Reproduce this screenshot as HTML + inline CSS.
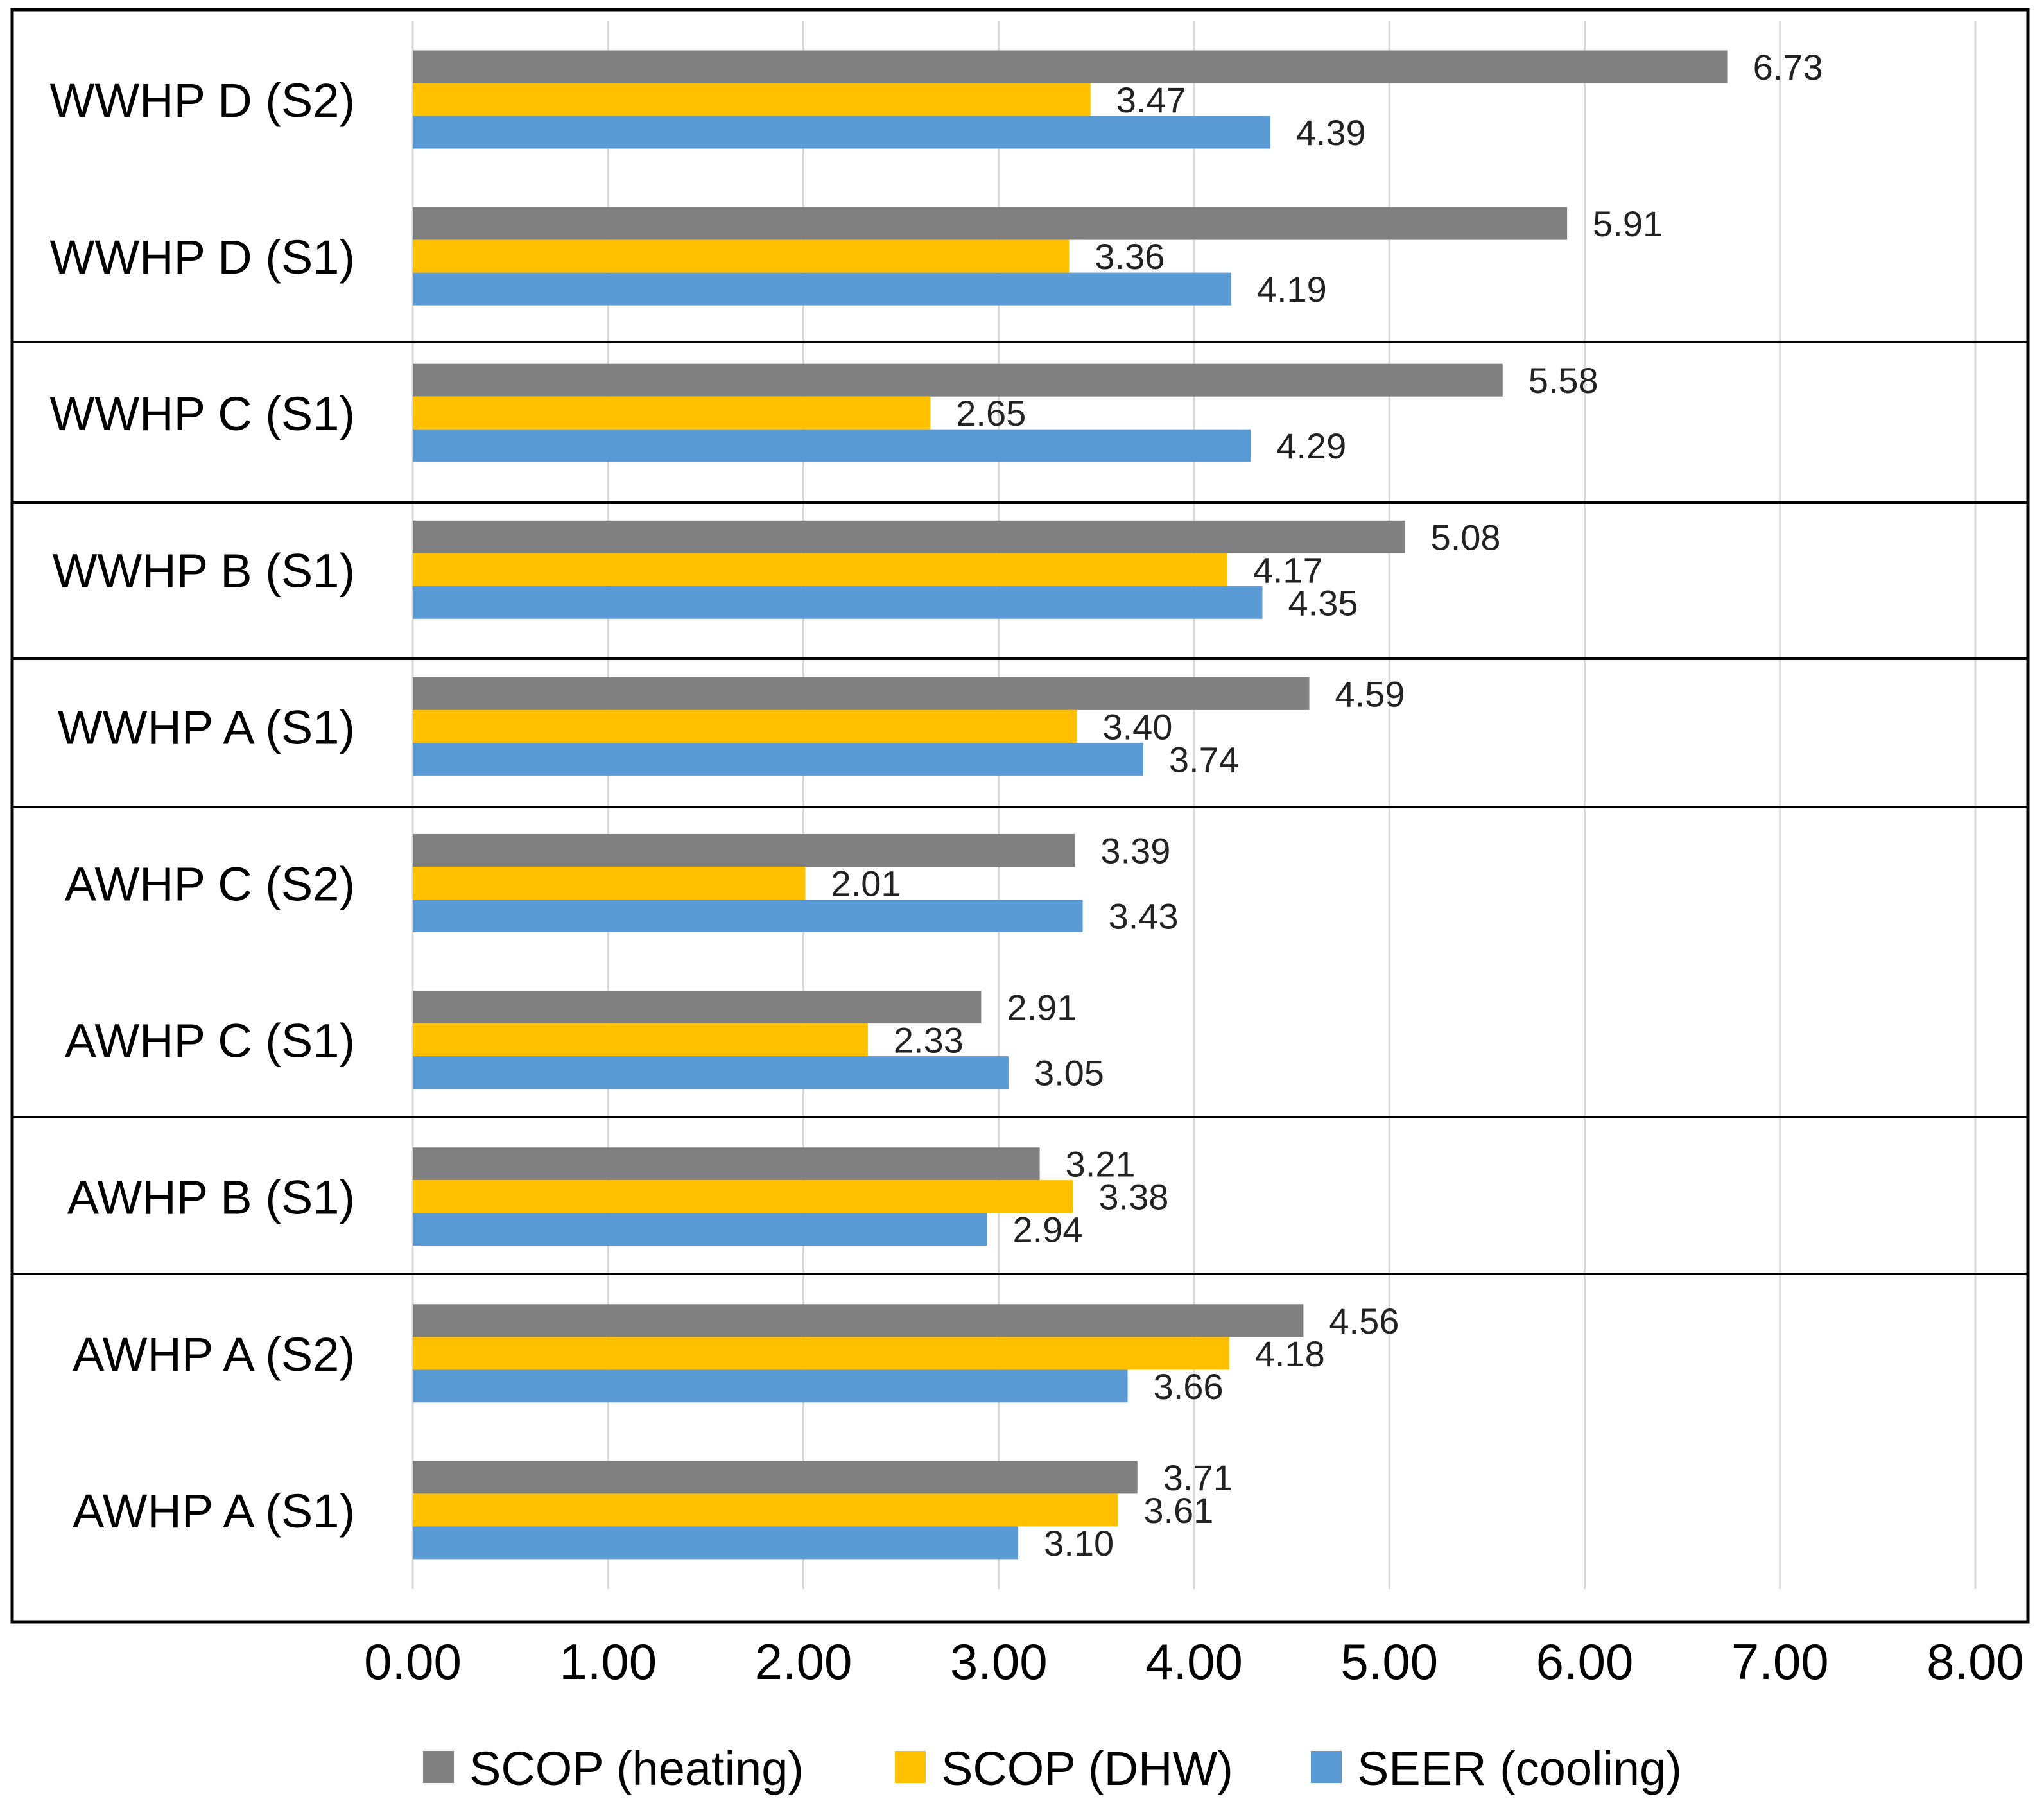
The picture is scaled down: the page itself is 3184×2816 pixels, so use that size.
<!DOCTYPE html>
<html><head><meta charset="utf-8"><style>
html,body{margin:0;padding:0;background:#fff;}
svg{display:block;font-family:"Liberation Sans",sans-serif;}
</style></head><body>
<svg id="chart" width="3184" height="2816" viewBox="0 0 3184 2816" xmlns="http://www.w3.org/2000/svg">
<rect x="0" y="0" width="3184" height="2816" fill="#fff"/>
<g id="grid"></g>
<g id="bars"></g>
<g id="frame"></g>
<g id="labels"></g>
<g id="legend"></g>
</svg>
<script>
const categories = ["WWHP D (S2)","WWHP D (S1)","WWHP C (S1)","WWHP B (S1)","WWHP A (S1)","AWHP C (S2)","AWHP C (S1)","AWHP B (S1)","AWHP A (S2)","AWHP A (S1)"];
const scopHeating = [6.73,5.91,5.58,5.08,4.59,3.39,2.91,3.21,4.56,3.71];
const scopDHW = [3.47,3.36,2.65,4.17,3.40,2.01,2.33,3.38,4.18,3.61];
const seerCooling = [4.39,4.19,4.29,4.35,3.74,3.43,3.05,2.94,3.66,3.10];
const tickValues = [0,1,2,3,4,5,6,7,8];
const seriesNames = ["SCOP (heating)","SCOP (DHW)","SEER (cooling)"];

const NS="http://www.w3.org/2000/svg";
const x0=643, unit=304.25;
const xs=v=>x0+v*unit;
const yc=i=>155+i*244.1;
const barH=51;
const colors=["#808080","#FFC000","#5B9BD5"];
const series=[scopHeating,scopDHW,seerCooling];
function mk(tag,attrs,parent){const e=document.createElementNS(NS,tag);for(const k in attrs)e.setAttribute(k,attrs[k]);parent.appendChild(e);return e;}
const grid=document.getElementById('grid'),bars=document.getElementById('bars'),frame=document.getElementById('frame'),labels=document.getElementById('labels'),legend=document.getElementById('legend');

tickValues.forEach(t=>{
  const l=mk('line',{x1:xs(t),x2:xs(t),y1:32,y2:2475,stroke:'#d9d9d9','stroke-width':3},grid);
  
  
  const tx=mk('text',{x:xs(t),y:2615,'font-size':78,'text-anchor':'middle',fill:'#000'},labels);
  tx.textContent=t.toFixed(2);
  
  
});

categories.forEach((c,i)=>{
  const t=mk('text',{x:553,y:yc(i)+27,'font-size':74,'text-anchor':'end',fill:'#000'},labels);
  t.textContent=c;
  
  
  series.forEach((s,j)=>{
    const v=s[i];
    const top=yc(i)-barH*1.5+j*barH;
    const r=mk('rect',{x:x0,y:top,width:xs(v)-x0,height:barH,fill:colors[j]},bars);
    
    
    const vl=mk('text',{x:xs(v)+40,y:top+barH/2+20,'font-size':56,fill:'#222'},labels);
    vl.textContent=v.toFixed(2);
    
    
  });
});

mk('rect',{x:19,y:15,width:3140,height:2511,fill:'none',stroke:'#000','stroke-width':5},frame);
[533,783,1026,1257,1740,1984].forEach(y=>{
  const l=mk('line',{x1:19,x2:3159,y1:y,y2:y,stroke:'#000','stroke-width':4},frame);
  
  
});

const legX=[659,1394,2042];
seriesNames.forEach((n,j)=>{
  const r=mk('rect',{x:legX[j],y:2727,width:48,height:50,fill:colors[j]},legend);
  
  
  const t=mk('text',{x:legX[j]+72,y:2780,'font-size':74,fill:'#000'},legend);
  t.textContent=n;
  
  
});
</script>
</body></html>
